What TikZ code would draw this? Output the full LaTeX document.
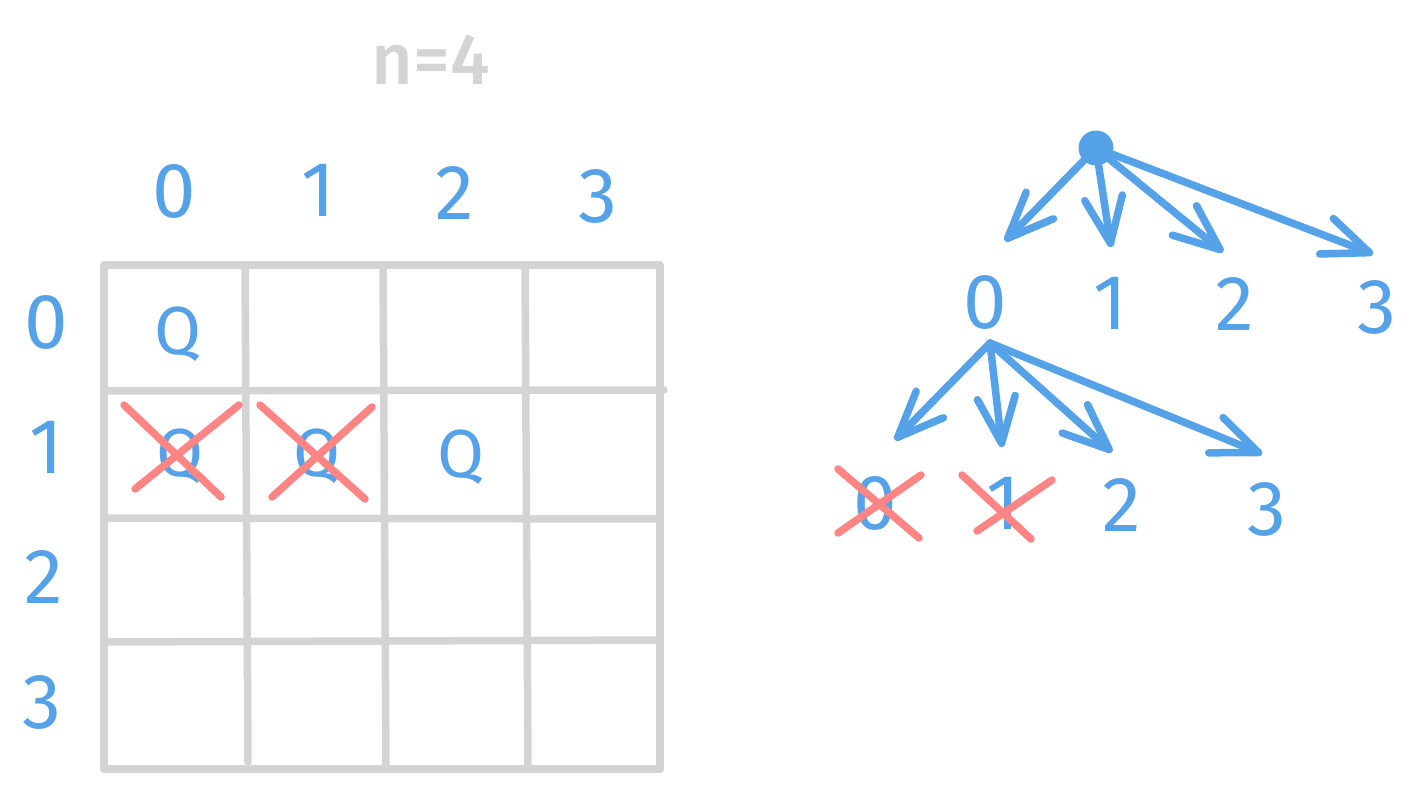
\documentclass[tikz,border=0pt]{standalone}
\usepackage{fontspec}
\setmainfont{Fira Sans}
\newfontfamily\titlefont[UprightFont=* Medium]{Fira Sans}
\usetikzlibrary{arrows.meta}
\definecolor{bl}{HTML}{55A2E8}
\definecolor{gr}{HTML}{D4D4D4}
\definecolor{rd}{HTML}{FF8585}
\tikzset{x=1pt,y=-1pt,
 gridline/.style={draw=gr,line width=7.5pt,line cap=round,line join=round},
 lab/.style={text=bl,font=\fontsize{78}{78}\selectfont,inner sep=0pt},
 queen/.style={text=bl,font=\fontsize{68}{68}\selectfont,inner sep=0pt},
 title/.style={text=gr,font=\titlefont\fontsize{72}{72}\selectfont,inner sep=0pt},
 crossline/.style={draw=rd,line width=7.5pt,line cap=round},
 link/.style={draw=bl,line width=7.5pt,line cap=round,-{Straight Barb[length=46pt,width=38pt,line width=7.5pt,round]}},
 rootdot/.style={circle,fill=bl,minimum size=35pt,inner sep=0pt}}
\begin{document}
\begin{tikzpicture}
\useasboundingbox (0,0) rectangle (1420,789);
\fill[white] (0,0) rectangle (1420,789);
% grid
\draw[gridline] (104,265)--(660,265)--(660,769)--(104,769)--cycle;
\draw[gridline] (245,265)--(248,762);
\draw[gridline] (383,265)--(386,769);
\draw[gridline] (525,265)--(528,769);
\draw[gridline] (104,391)--(664,390);
\draw[gridline] (104,518)--(660,519);
\draw[gridline] (104,642)--(660,640);
\node[title] (n) at (431,60) {n=4};
% labels
\node[lab] (c0) at (174,191) {0};
\node[lab] (c1) at (318,190) {1};
\node[lab] (c2) at (455,193) {2};
\node[lab] (c3) at (598,196) {3};
\node[lab] (r0) at (46,322) {0};
\node[lab] (r1) at (46,447) {1};
\node[lab] (r2) at (44,577) {2};
\node[lab] (r3) at (42,702) {3};
\node[queen] (q00) at (178,334) {Q};
\node[queen] (q10) at (180,456) {Q};
\node[queen] (q11) at (317,456) {Q};
\node[queen] (q12) at (461,457) {Q};
\draw[crossline] (124,405)--(221,497);
\draw[crossline] (239,405)--(135,489);
\draw[crossline] (260,405)--(365,499);
\draw[crossline] (372,407)--(272,497);
% tree
\node[rootdot] (root) at (1096,148) {};
\coordinate (a0) at (1005,241);
\coordinate (a1) at (1111,247);
\coordinate (a2) at (1223,252);
\coordinate (a3) at (1373,254);
\draw[link] (root)--(a0);
\draw[link] (root)--(a1);
\draw[link] (root)--(a2);
\draw[link] (root)--(a3);
\node[lab] (t0) at (985,302) {0};
\node[lab] (t1) at (1110,303) {1};
\node[lab] (t2) at (1235,304) {2};
\node[lab] (t3) at (1377,307) {3};
\coordinate (s) at (990,343);
\coordinate (b0) at (895,440);
\coordinate (b1) at (1002,447);
\coordinate (b2) at (1112,452);
\coordinate (b3) at (1262,454);
\draw[link] (s)--(b0);
\draw[link] (s)--(b1);
\draw[link] (s)--(b2);
\draw[link] (s)--(b3);
\node[lab] (u0) at (875,503) {0};
\node[lab] (u1) at (1003,503) {1};
\node[lab] (u2) at (1122,505) {2};
\node[lab] (u3) at (1267,509) {3};
\draw[crossline] (838,469)--(919,538);
\draw[crossline] (921,475)--(838,533);
\draw[crossline] (962,475)--(1031,539);
\draw[crossline] (1052,480)--(977,531);
\end{tikzpicture}
\end{document}
